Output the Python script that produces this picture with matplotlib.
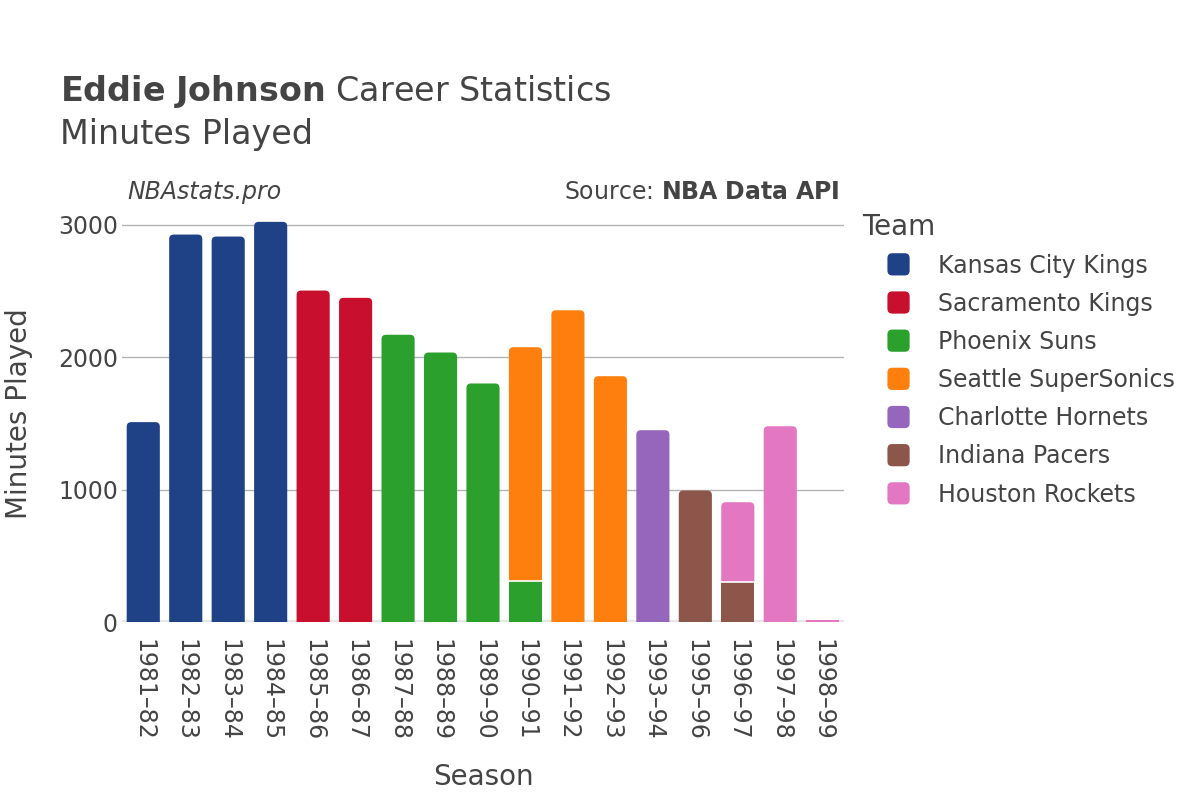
import matplotlib
matplotlib.use("Agg")
import matplotlib.pyplot as plt
from matplotlib.patches import FancyBboxPatch, Rectangle, PathPatch, Patch
from matplotlib.path import Path
from matplotlib.legend_handler import HandlerBase
import numpy as np

seasons = ["1981–82", "1982–83", "1983–84", "1984–85", "1985–86", "1986–87",
           "1987–88", "1988–89", "1989–90", "1990–91", "1991–92", "1992–93",
           "1993–94", "1995–96", "1996–97", "1997–98", "1998–99"]

teams = ["Kansas City Kings", "Sacramento Kings", "Phoenix Suns",
         "Seattle SuperSonics", "Charlotte Hornets", "Indiana Pacers",
         "Houston Rockets"]
team_colors = ["#1f4287", "#c8102e", "#2ca02c", "#ff7f0e", "#9467bd",
               "#8c564b", "#e377c2"]

kansas_city = [1510, 2927, 2912, 3023, 0, 0, 0, 0, 0, 0, 0, 0, 0, 0, 0, 0, 0]
sacramento = [0, 0, 0, 0, 2504, 2449, 0, 0, 0, 0, 0, 0, 0, 0, 0, 0, 0]
phoenix = [0, 0, 0, 0, 0, 0, 2170, 2036, 1802, 310, 0, 0, 0, 0, 0, 0, 0]
seattle = [0, 0, 0, 0, 0, 0, 0, 0, 0, 1766, 2355, 1857, 0, 0, 0, 0, 0]
charlotte = [0, 0, 0, 0, 0, 0, 0, 0, 0, 0, 0, 0, 1449, 0, 0, 0, 0]
indiana = [0, 0, 0, 0, 0, 0, 0, 0, 0, 0, 0, 0, 0, 993, 302, 0, 0]
houston = [0, 0, 0, 0, 0, 0, 0, 0, 0, 0, 0, 0, 0, 0, 603, 1479, 15]

series = [kansas_city, sacramento, phoenix, seattle, charlotte, indiana, houston]

TXT = "#444444"
fig = plt.figure(figsize=(12, 8), dpi=100)
AX = [0.1017, 0.2225, 0.6016, 0.5212]
ax = fig.add_axes(AX)

x = np.arange(len(seasons))
width = 0.78
ymax = 3150
ax.set_xlim(-0.5, len(seasons) - 0.5)
ax.set_ylim(0, ymax)

ax_w_px = AX[2] * 1200
ax_h_px = AX[3] * 800
rpx = 4.5
rx = rpx * len(seasons) / ax_w_px
ry = rpx * ymax / ax_h_px


def rounded_top_path(l, b, w, h):
    r = l + w
    t = b + h
    verts = [(l, b), (r, b), (r, t - ry), (r, t), (r - rx, t),
             (l + rx, t), (l, t), (l, t - ry), (l, b)]
    codes = [Path.MOVETO, Path.LINETO, Path.LINETO, Path.CURVE3, Path.CURVE3,
             Path.LINETO, Path.CURVE3, Path.CURVE3, Path.CLOSEPOLY]
    return Path(verts, codes)


bottoms = np.zeros(len(seasons))
totals = np.sum(np.array(series), axis=0)
for vals, col in zip(series, team_colors):
    vals = np.array(vals, dtype=float)
    for i, v in enumerate(vals):
        if v <= 0:
            continue
        b = bottoms[i]
        left = x[i] - width / 2
        is_top = abs(b + v - totals[i]) < 1e-6
        if is_top and v > 2 * ry:
            ax.add_patch(PathPatch(rounded_top_path(left, b, width, v),
                                   facecolor=col, edgecolor="none", zorder=3))
        else:
            ax.add_patch(Rectangle((left, b), width, v, facecolor=col,
                                   edgecolor="none", zorder=3))
        if b > 0:
            ax.plot([left, left + width], [b, b], color="white", lw=1.2, zorder=4)
    bottoms += vals

for s in ax.spines.values():
    s.set_visible(False)
ax.set_yticks([0, 1000, 2000, 3000])
ax.set_yticklabels(["0", "1000", "2000", "3000"])
ax.grid(axis="y", color="#b3b3b3", lw=1, zorder=0)
ax.axhline(0, color="#e6e6e6", lw=3, zorder=2)
ax.set_xticks(x)
ax.set_xticklabels(seasons, rotation=-90, fontsize=17, color=TXT)
ax.tick_params(axis="x", length=0, pad=12)
ax.tick_params(axis="y", length=0, labelsize=17, labelcolor=TXT, pad=3)
ax.set_xlabel("Season", fontsize=20, color=TXT, labelpad=16)
ax.set_ylabel("Minutes Played", fontsize=20, color=TXT, labelpad=18)

fig.text(0.05, 0.874, r"$\bf{Eddie\ Johnson}$ Career Statistics", fontsize=24,
         color=TXT, va="baseline")
fig.text(0.05, 0.82, "Minutes Played", fontsize=24, color=TXT, va="baseline")
fig.text(0.106, 0.751, "NBAstats.pro", fontsize=17, style="italic", color=TXT, va="baseline")
fig.text(0.7, 0.751, "Source: $\\bf{NBA\\ Data\\ API}$", fontsize=17, color=TXT,
         ha="right", va="baseline")
fig.text(862 / 1200, 0.706, "Team", fontsize=20, color=TXT, va="baseline")


class RoundHandler(HandlerBase):
    def create_artists(self, legend, orig, xdescent, ydescent, width, height,
                       fontsize, trans):
        s = 16
        cx = width / 2 - xdescent
        cy = height / 2 - ydescent
        p = FancyBboxPatch((cx - s / 2, cy - s / 2), s, s,
                           boxstyle="round,pad=0,rounding_size=3.5",
                           facecolor=orig.get_facecolor(), edgecolor="none",
                           transform=trans)
        return [p]


handles = [Patch(facecolor=c, label=t) for t, c in zip(teams, team_colors)]
leg = fig.legend(handles=handles, loc="upper left",
                 bbox_to_anchor=(0.735, 0.683), frameon=False, fontsize=17,
                 labelspacing=0.6, handlelength=1.4,
                 handletextpad=0.97, borderpad=0,
                 borderaxespad=0, handler_map={Patch: RoundHandler()})
for t in leg.get_texts():
    t.set_color(TXT)

fig.savefig("out.png", dpi=100, facecolor="white")
